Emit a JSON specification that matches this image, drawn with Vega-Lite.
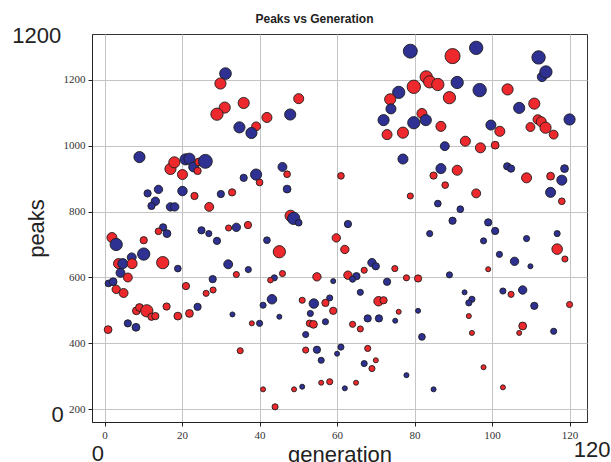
{
 "$schema": "https://vega.github.io/schema/vega-lite/v6.json",
 "width": 495, "height": 388,
 "autosize": "none",
 "padding": {"left": 92, "top": 34, "right": 24, "bottom": 40},
 "background": "white",
 "title": {"text": "Peaks vs Generation", "fontSize": 12, "fontWeight": "bold", "font": "Liberation Sans", "color": "#222", "anchor": "middle", "dx": -25, "offset": -1},
 "config": {
  "view": {"stroke": "#333", "strokeWidth": 1},
  "axis": {"grid": true, "gridColor": "#c4c4c4", "gridWidth": 1, "domainColor": "#222", "tickColor": "#222", "tickSize": 4, "labelFont": "Liberation Sans Narrow", "labelFontSize": 11, "labelColor": "#333", "labelPadding": 3, "titleFont": "Liberation Sans", "titleFontSize": 22, "titleFontWeight": "normal", "titleColor": "#222", "format": "d"}
 },
 "datasets": {
  "pts": [
{"gen":31.2,"peaks":1218,"type":"B","mag":21},{"gen":29.9,"peaks":1188,"type":"A","mag":20},{"gen":35.9,"peaks":1129,"type":"A","mag":20},{"gen":31.0,"peaks":1115,"type":"A","mag":20},{"gen":29.0,"peaks":1095,"type":"A","mag":22},{"gen":41.9,"peaks":1085,"type":"A","mag":18},{"gen":34.8,"peaks":1055,"type":"B","mag":20},{"gen":39.1,"peaks":1058,"type":"A","mag":16},{"gen":37.9,"peaks":1038,"type":"B","mag":20},{"gen":9.0,"peaks":965,"type":"B","mag":20},{"gen":17.0,"peaks":929,"type":"A","mag":20},{"gen":18.0,"peaks":949,"type":"A","mag":20},{"gen":20.9,"peaks":958,"type":"B","mag":20},{"gen":21.9,"peaks":960,"type":"B","mag":20},{"gen":23.0,"peaks":935,"type":"B","mag":18},{"gen":20.1,"peaks":912,"type":"A","mag":18},{"gen":24.0,"peaks":923,"type":"A","mag":13},{"gen":24.3,"peaks":950,"type":"A","mag":14},{"gen":26.0,"peaks":952,"type":"B","mag":25},{"gen":35.9,"peaks":902,"type":"B","mag":13},{"gen":39.1,"peaks":912,"type":"B","mag":20},{"gen":40.0,"peaks":888,"type":"A","mag":12},{"gen":11.1,"peaks":855,"type":"B","mag":13},{"gen":13.9,"peaks":867,"type":"B","mag":15},{"gen":20.1,"peaks":862,"type":"B","mag":17},{"gen":23.2,"peaks":847,"type":"A","mag":13},{"gen":30.0,"peaks":853,"type":"B","mag":13},{"gen":32.9,"peaks":858,"type":"A","mag":13},{"gen":13.1,"peaks":831,"type":"B","mag":15},{"gen":12.1,"peaks":817,"type":"B","mag":13},{"gen":17.0,"peaks":814,"type":"B","mag":15},{"gen":18.1,"peaks":814,"type":"B","mag":15},{"gen":27.0,"peaks":814,"type":"A","mag":16},
{"gen":78.9,"peaks":1286,"type":"B","mag":25},{"gen":50.1,"peaks":1142,"type":"A","mag":18},{"gen":47.9,"peaks":1094,"type":"B","mag":20},{"gen":83.0,"peaks":1208,"type":"A","mag":22},{"gen":83.9,"peaks":1193,"type":"A","mag":22},{"gen":86.0,"peaks":1185,"type":"A","mag":22},{"gen":79.8,"peaks":1178,"type":"A","mag":24},{"gen":75.9,"peaks":1161,"type":"B","mag":22},{"gen":73.7,"peaks":1140,"type":"A","mag":20},{"gen":73.9,"peaks":1111,"type":"B","mag":18},{"gen":72.0,"peaks":1077,"type":"B","mag":20},{"gen":81.9,"peaks":1097,"type":"A","mag":18},{"gen":79.8,"peaks":1069,"type":"B","mag":22},{"gen":82.9,"peaks":1077,"type":"B","mag":20},{"gen":72.9,"peaks":1033,"type":"A","mag":18},{"gen":77.0,"peaks":1039,"type":"A","mag":20},{"gen":86.8,"peaks":1058,"type":"A","mag":18},{"gen":87.8,"peaks":998,"type":"B","mag":16},{"gen":77.0,"peaks":959,"type":"B","mag":18},{"gen":45.9,"peaks":935,"type":"B","mag":16},{"gen":47.1,"peaks":913,"type":"A","mag":12},{"gen":47.1,"peaks":868,"type":"B","mag":14},{"gen":61.0,"peaks":908,"type":"A","mag":12},{"gen":86.8,"peaks":930,"type":"B","mag":18},{"gen":84.9,"peaks":909,"type":"A","mag":13},{"gen":87.9,"peaks":880,"type":"A","mag":12},{"gen":78.9,"peaks":847,"type":"A","mag":11},{"gen":86.0,"peaks":824,"type":"B","mag":12},
{"gen":95.9,"peaks":1296,"type":"B","mag":24},{"gen":89.8,"peaks":1271,"type":"A","mag":27},{"gen":112.0,"peaks":1267,"type":"B","mag":24},{"gen":112.9,"peaks":1208,"type":"B","mag":17},{"gen":113.9,"peaks":1223,"type":"B","mag":22},{"gen":91.0,"peaks":1191,"type":"B","mag":22},{"gen":96.8,"peaks":1168,"type":"B","mag":24},{"gen":89.0,"peaks":1145,"type":"A","mag":22},{"gen":104.0,"peaks":1170,"type":"A","mag":20},{"gen":110.9,"peaks":1127,"type":"A","mag":20},{"gen":107.0,"peaks":1114,"type":"B","mag":20},{"gen":120.0,"peaks":1079,"type":"B","mag":20},{"gen":111.8,"peaks":1079,"type":"A","mag":17},{"gen":112.7,"peaks":1072,"type":"A","mag":18},{"gen":109.9,"peaks":1056,"type":"A","mag":16},{"gen":113.8,"peaks":1054,"type":"A","mag":20},{"gen":115.9,"peaks":1033,"type":"A","mag":16},{"gen":99.7,"peaks":1062,"type":"B","mag":18},{"gen":102.0,"peaks":1043,"type":"A","mag":18},{"gen":100.8,"peaks":1001,"type":"A","mag":14},{"gen":93.1,"peaks":1013,"type":"A","mag":18},{"gen":97.0,"peaks":993,"type":"A","mag":18},{"gen":103.9,"peaks":937,"type":"B","mag":13},{"gen":104.9,"peaks":930,"type":"B","mag":13},{"gen":118.7,"peaks":930,"type":"B","mag":14},{"gen":108.9,"peaks":902,"type":"A","mag":18},{"gen":115.1,"peaks":907,"type":"A","mag":14},{"gen":118.0,"peaks":895,"type":"B","mag":18},{"gen":91.0,"peaks":925,"type":"A","mag":18},{"gen":95.9,"peaks":855,"type":"A","mag":16},{"gen":115.1,"peaks":858,"type":"B","mag":18},{"gen":118.0,"peaks":831,"type":"A","mag":12},{"gen":91.8,"peaks":807,"type":"B","mag":12},
{"gen":89.8,"peaks":772,"type":"B","mag":13},{"gen":99.0,"peaks":767,"type":"B","mag":13},{"gen":100.8,"peaks":741,"type":"B","mag":13},{"gen":83.9,"peaks":733,"type":"B","mag":11},{"gen":97.8,"peaks":711,"type":"B","mag":11},{"gen":108.9,"peaks":718,"type":"B","mag":11},{"gen":116.8,"peaks":733,"type":"B","mag":11},{"gen":116.8,"peaks":686,"type":"A","mag":19},{"gen":118.8,"peaks":656,"type":"A","mag":11},{"gen":101.9,"peaks":670,"type":"B","mag":11},{"gen":105.8,"peaks":649,"type":"B","mag":15},{"gen":109.9,"peaks":634,"type":"B","mag":9},{"gen":99.0,"peaks":625,"type":"A","mag":9},{"gen":89.0,"peaks":608,"type":"B","mag":11},{"gen":92.9,"peaks":555,"type":"B","mag":9},{"gen":94.8,"peaks":534,"type":"B","mag":11},{"gen":94.0,"peaks":523,"type":"B","mag":11},{"gen":94.0,"peaks":483,"type":"A","mag":9},{"gen":94.8,"peaks":432,"type":"A","mag":9},{"gen":102.8,"peaks":559,"type":"B","mag":11},{"gen":104.9,"peaks":549,"type":"A","mag":11},{"gen":107.9,"peaks":562,"type":"B","mag":15},{"gen":110.9,"peaks":514,"type":"B","mag":13},{"gen":120.0,"peaks":518,"type":"A","mag":11},{"gen":107.9,"peaks":453,"type":"A","mag":14},{"gen":107.0,"peaks":432,"type":"A","mag":9},{"gen":115.9,"peaks":437,"type":"B","mag":11},{"gen":81.9,"peaks":420,"type":"B","mag":12},{"gen":97.8,"peaks":328,"type":"A","mag":9},{"gen":102.8,"peaks":267,"type":"A","mag":9},{"gen":84.9,"peaks":261,"type":"B","mag":9},
{"gen":48.0,"peaks":787,"type":"A","mag":20},{"gen":48.8,"peaks":779,"type":"B","mag":22},{"gen":50.1,"peaks":766,"type":"B","mag":12},{"gen":62.8,"peaks":762,"type":"B","mag":13},{"gen":59.8,"peaks":720,"type":"A","mag":15},{"gen":62.0,"peaks":685,"type":"A","mag":15},{"gen":45.1,"peaks":678,"type":"A","mag":22},{"gen":41.9,"peaks":713,"type":"B","mag":12},{"gen":69.0,"peaks":645,"type":"B","mag":15},{"gen":70.0,"peaks":634,"type":"B","mag":13},{"gen":74.9,"peaks":627,"type":"A","mag":11},{"gen":67.0,"peaks":622,"type":"A","mag":11},{"gen":45.9,"peaks":612,"type":"A","mag":11},{"gen":43.8,"peaks":599,"type":"B","mag":11},{"gen":42.8,"peaks":592,"type":"A","mag":10},{"gen":54.8,"peaks":602,"type":"A","mag":15},{"gen":59.0,"peaks":589,"type":"B","mag":9},{"gen":62.8,"peaks":607,"type":"A","mag":15},{"gen":65.0,"peaks":604,"type":"B","mag":13},{"gen":64.0,"peaks":595,"type":"B","mag":11},{"gen":77.9,"peaks":599,"type":"A","mag":11},{"gen":80.9,"peaks":597,"type":"A","mag":13},{"gen":72.9,"peaks":587,"type":"B","mag":13},{"gen":66.0,"peaks":555,"type":"B","mag":11},{"gen":43.2,"peaks":534,"type":"B","mag":17},{"gen":51.0,"peaks":531,"type":"A","mag":11},{"gen":54.0,"peaks":521,"type":"B","mag":17},{"gen":58.1,"peaks":538,"type":"B","mag":11},{"gen":57.0,"peaks":523,"type":"A","mag":13},{"gen":59.0,"peaks":499,"type":"A","mag":13},{"gen":70.7,"peaks":528,"type":"A","mag":17},{"gen":72.0,"peaks":531,"type":"A","mag":13},{"gen":75.9,"peaks":496,"type":"A","mag":9},{"gen":80.9,"peaks":499,"type":"B","mag":9},{"gen":53.1,"peaks":491,"type":"B","mag":11},{"gen":45.1,"peaks":481,"type":"B","mag":9},{"gen":67.9,"peaks":476,"type":"B","mag":13},{"gen":70.8,"peaks":476,"type":"B","mag":13},{"gen":75.0,"peaks":469,"type":"B","mag":9},{"gen":57.0,"peaks":466,"type":"B","mag":11},{"gen":52.9,"peaks":461,"type":"A","mag":12},{"gen":53.9,"peaks":458,"type":"A","mag":14},{"gen":64.0,"peaks":458,"type":"A","mag":11},{"gen":66.0,"peaks":444,"type":"A","mag":11},{"gen":51.9,"peaks":427,"type":"B","mag":11},{"gen":51.9,"peaks":380,"type":"A","mag":11},{"gen":54.8,"peaks":381,"type":"B","mag":13},{"gen":61.0,"peaks":389,"type":"B","mag":11},{"gen":60.0,"peaks":369,"type":"B","mag":9},{"gen":67.9,"peaks":385,"type":"A","mag":11},{"gen":55.9,"peaks":349,"type":"B","mag":11},{"gen":67.0,"peaks":339,"type":"B","mag":11},{"gen":70.0,"peaks":349,"type":"A","mag":9},{"gen":69.0,"peaks":324,"type":"A","mag":11},{"gen":77.9,"peaks":304,"type":"B","mag":9},{"gen":58.1,"peaks":284,"type":"A","mag":11},{"gen":55.9,"peaks":281,"type":"A","mag":9},{"gen":51.0,"peaks":269,"type":"B","mag":9},{"gen":48.9,"peaks":261,"type":"A","mag":9},{"gen":62.0,"peaks":264,"type":"B","mag":9},{"gen":64.9,"peaks":281,"type":"A","mag":9},{"gen":44.0,"peaks":208,"type":"A","mag":11},
{"gen":1.9,"peaks":721,"type":"A","mag":18},{"gen":3.0,"peaks":700,"type":"B","mag":22},{"gen":10.1,"peaks":713,"type":"A","mag":13},{"gen":15.1,"peaks":752,"type":"B","mag":13},{"gen":13.9,"peaks":740,"type":"A","mag":12},{"gen":16.1,"peaks":733,"type":"B","mag":14},{"gen":25.0,"peaks":743,"type":"B","mag":13},{"gen":26.9,"peaks":733,"type":"B","mag":11},{"gen":29.0,"peaks":711,"type":"B","mag":13},{"gen":32.0,"peaks":750,"type":"A","mag":11},{"gen":34.0,"peaks":752,"type":"B","mag":15},{"gen":37.0,"peaks":759,"type":"A","mag":13},{"gen":3.6,"peaks":642,"type":"A","mag":18},{"gen":4.7,"peaks":642,"type":"B","mag":18},{"gen":7.0,"peaks":661,"type":"B","mag":16},{"gen":7.1,"peaks":642,"type":"A","mag":18},{"gen":10.1,"peaks":671,"type":"B","mag":22},{"gen":15.0,"peaks":645,"type":"A","mag":22},{"gen":4.1,"peaks":614,"type":"B","mag":16},{"gen":6.0,"peaks":600,"type":"A","mag":16},{"gen":18.9,"peaks":627,"type":"B","mag":12},{"gen":31.9,"peaks":640,"type":"B","mag":16},{"gen":34.0,"peaks":609,"type":"A","mag":11},{"gen":37.1,"peaks":624,"type":"B","mag":11},{"gen":1.0,"peaks":582,"type":"B","mag":12},{"gen":2.2,"peaks":587,"type":"B","mag":14},{"gen":3.0,"peaks":564,"type":"A","mag":15},{"gen":4.9,"peaks":553,"type":"A","mag":16},{"gen":21.0,"peaks":574,"type":"A","mag":13},{"gen":27.9,"peaks":595,"type":"B","mag":13},{"gen":26.2,"peaks":552,"type":"A","mag":11},{"gen":28.0,"peaks":562,"type":"A","mag":11},{"gen":8.2,"peaks":499,"type":"A","mag":14},{"gen":9.0,"peaks":509,"type":"A","mag":14},{"gen":10.9,"peaks":499,"type":"A","mag":22},{"gen":12.1,"peaks":481,"type":"A","mag":13},{"gen":13.1,"peaks":483,"type":"A","mag":13},{"gen":16.0,"peaks":512,"type":"A","mag":13},{"gen":18.9,"peaks":483,"type":"A","mag":14},{"gen":21.9,"peaks":491,"type":"A","mag":14},{"gen":24.0,"peaks":511,"type":"B","mag":13},{"gen":6.0,"peaks":461,"type":"B","mag":13},{"gen":8.1,"peaks":449,"type":"B","mag":14},{"gen":0.9,"peaks":442,"type":"A","mag":14},{"gen":33.0,"peaks":488,"type":"B","mag":9},{"gen":38.0,"peaks":461,"type":"A","mag":9},{"gen":40.0,"peaks":461,"type":"B","mag":11},{"gen":40.9,"peaks":516,"type":"B","mag":11},{"gen":35.0,"peaks":378,"type":"A","mag":11},{"gen":40.9,"peaks":261,"type":"A","mag":9}
  ],
  "notes": [
   {"label": "1200", "gen": -17.5, "peaks": 1311},
   {"label": "0", "gen": -12.1, "peaks": 161.5},
   {"label": "0", "gen": -1.75, "peaks": 44},
   {"label": "120", "gen": 125.8, "peaks": 55.5}
  ]
 },
 "layer": [
  {
   "data": {"name": "pts"},
   "mark": {"type": "circle", "opacity": 1, "stroke": "#1c1c1c", "strokeWidth": 0.9},
   "encoding": {
    "x": {"field": "gen", "type": "quantitative", "scale": {"domain": [-3.25, 124.5], "nice": false, "zero": false}, "axis": {"values": [0, 20, 40, 60, 80, 100, 120], "title": "generation", "titlePadding": 4}},
    "y": {"field": "peaks", "type": "quantitative", "scale": {"domain": [162, 1338], "nice": false, "zero": false}, "axis": {"values": [200, 400, 600, 800, 1000, 1200], "title": "peaks", "titlePadding": 15}},
    "fill": {"field": "type", "type": "nominal", "scale": {"domain": ["A", "B"], "range": ["#ED292D", "#2E3192"]}, "legend": null},
    "size": {"field": "mag", "type": "quantitative", "scale": {"type": "pow", "exponent": 2, "domain": [0, 30], "range": [0, 280]}, "legend": null}
   }
  },
  {
   "data": {"name": "notes"},
   "mark": {"type": "text", "fontSize": 22, "font": "Liberation Sans", "color": "#222", "align": "center", "baseline": "alphabetic", "clip": false},
   "encoding": {
    "x": {"field": "gen", "type": "quantitative"},
    "y": {"field": "peaks", "type": "quantitative"},
    "text": {"field": "label"}
   }
  }
 ]
}
